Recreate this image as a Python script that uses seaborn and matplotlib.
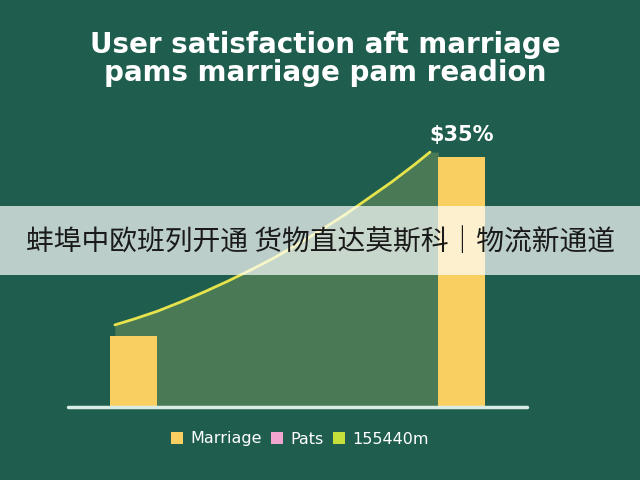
import matplotlib
matplotlib.use("Agg")
import matplotlib.pyplot as plt
from matplotlib.patches import Patch, Rectangle
import seaborn as sns

# data
bar_pos = [0, 7]
bar_vals = [10, 35]
curve_x = [-0.4, 0.0, 0.5, 1.0, 1.5, 2.0, 2.5, 3.0, 3.5, 4.0, 4.5, 5.0, 5.5, 6.0, 6.32]
curve_y = [11.5, 12.3, 13.4, 14.7, 16.1, 17.6, 19.2, 20.9, 22.8, 24.8, 26.9, 29.2, 31.5, 34.0, 35.7]
legend_labels = ["Marriage", "Pats", "155440m"]
legend_colors = ["#f9cf62", "#f2a6cf", "#c5e03a"]
title_lines = ["User satisfaction aft marriage", "pams marriage pam readion"]
peak_label = "$35%"
banner_text = "蚌埠中欧班列开通 货物直达莫斯科｜物流新通道"

bg = "#1f5e4f"
sns.set_theme(style="white")
plt.rcParams['font.family'] = ['DejaVu Sans']

fig = plt.figure(figsize=(6.4, 4.8), dpi=100, facecolor=bg)
ax = fig.add_axes([68 / 640, 73 / 480, 459 / 640, 277 / 480])
ax.set_facecolor(bg)

# shaded area under the curve runs on to the tall bar
ax.fill_between(curve_x + [6.5], 0, curve_y + [curve_y[-1]], color="#4a7a55", lw=0, zorder=1)
sns.barplot(x=bar_pos, y=bar_vals, native_scale=True, width=1 / 7,
            color="#f9cf62", saturation=1, linewidth=0, ax=ax, zorder=2)
sns.lineplot(x=curve_x, y=curve_y, color="#e6e34c", lw=2, ax=ax, zorder=3)
ax.axhline(0, color="#d8ebe4", lw=2.5, zorder=4, clip_on=False)

ax.text(bar_pos[1], 38.1, peak_label, ha="center", va="center",
        color="white", fontsize=15, fontweight="bold", clip_on=False)

ax.set_xlim(-1.4, 8.39)
ax.set_ylim(0, 38.8)
ax.set_xticks([])
ax.set_yticks([])
ax.set_xlabel("")
ax.set_ylabel("")
sns.despine(ax=ax, left=True, bottom=True)

fig.text(0.508, 1 - 45 / 480, title_lines[0], ha="center", va="center",
         color="white", fontsize=20, fontweight="bold")
fig.text(0.508, 1 - 73 / 480, title_lines[1], ha="center", va="center",
         color="white", fontsize=20, fontweight="bold")

handles = [Patch(facecolor=c, edgecolor="none") for c in legend_colors]
fig.legend(handles, legend_labels, loc="center", bbox_to_anchor=(300 / 640, 1 - 439 / 480),
           ncol=3, frameon=False, fontsize=11.5, labelcolor="white",
           handlelength=0.75, handleheight=0.75, handletextpad=0.45,
           columnspacing=0.6)

# translucent banner across the middle
fig.patches.append(Rectangle((0, 1 - 275 / 480), 1, 69 / 480, transform=fig.transFigure,
                             facecolor="white", alpha=0.7, lw=0, zorder=10))
fig.text(0.5, 1 - 242 / 480, banner_text, ha="center", va="center",
         color="#1a1a1a", fontsize=20, zorder=11,
         family=['Noto Sans CJK SC', 'DejaVu Sans'])

fig.savefig("out.png", dpi=100, facecolor=bg)
